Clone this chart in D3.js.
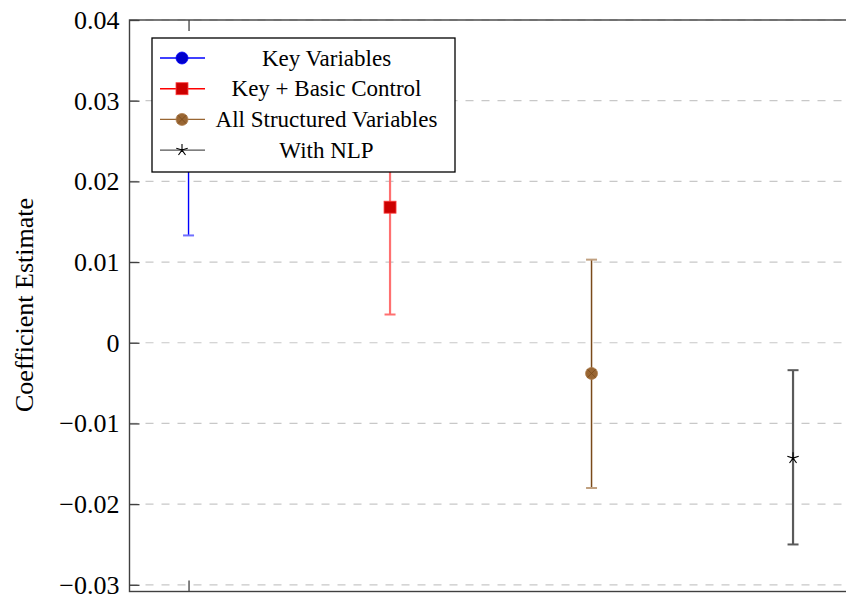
<!DOCTYPE html>
<meta charset="utf-8">
<style>

body {
  margin: 0;
  background: #fff;
}

text {
  font-family: "Liberation Serif", "Times New Roman", serif;
  fill: #000;
}

.grid line {
  stroke: #c8c8c8;
  stroke-width: 1.2px;
  stroke-dasharray: 8,8;
}

.frame {
  fill: none;
  stroke: #404040;
  stroke-width: 1.4px;
}

</style>
<body>
<script src="https://d3js.org/d3.v7.min.js"></script>
<script>

var width = 846,
    height = 596;

// data
var models = ["Key Variables", "Key + Basic Control", "All Structured Variables", "With NLP"];
var xPos = [1, 2, 3, 4];
var estimates = [0.0250, 0.0168, -0.0038, -0.0143];
var lower = [0.0133, 0.0035, -0.0180, -0.0250];
var upper = [0.0367, 0.0301, 0.0103, -0.0034];

var yTicks = [-0.03, -0.02, -0.01, 0, 0.01, 0.02, 0.03, 0.04];
var yTickLabels = ["\u22120.03", "\u22120.02", "\u22120.01", "0", "0.01", "0.02", "0.03", "0.04"];
var xTicks = [1];

// styles per series
var barColor = ["#0000ff", "#ff7070", "#7a4a1a", "#5a5a5a"];
var capColor = ["#7070ff", "#ff7070", "#c0a080", "#5a5a5a"];
var barWidth = [1.4, 2.2, 1.5, 2.2];
var lineColor = ["#0000ff", "#ff0000", "#996633", "#555555"];
var markFill = ["#0000cc", "#cc0000", "#996633", "#000"];
var markType = ["circle", "square", "otimes", "star"];

var plotLeft = 129.5, plotTop = 20, plotBottom = 591.5;

var x = d3.scaleLinear()
    .domain([0.707, 4.3])
    .range([plotLeft, plotLeft + 3.593 * 201.5]);

var y = d3.scaleLinear()
    .domain([-0.03083, 0.04])
    .range([plotBottom, plotTop]);

var svg = d3.select("body").append("svg")
    .attr("width", width)
    .attr("height", height);

// grid
svg.append("g")
    .attr("class", "grid")
  .selectAll("line")
    .data(yTicks)
  .enter().append("line")
    .attr("x1", plotLeft)
    .attr("x2", width + 10)
    .attr("y1", function(d) { return y(d); })
    .attr("y2", function(d) { return y(d); });

// y axis with inward ticks
var yAxis = d3.axisLeft(y)
    .tickValues(yTicks)
    .tickFormat(function(d, i) { return yTickLabels[i]; })
    .tickSizeInner(-10)
    .tickSizeOuter(0)
    .tickPadding(10);

var gy = svg.append("g")
    .attr("transform", "translate(" + plotLeft + ",0)")
    .call(yAxis)
    .attr("font-family", '"Liberation Serif", serif')
    .attr("font-size", 26);
gy.select(".domain").remove();
gy.selectAll(".tick line").attr("stroke", "#404040").attr("stroke-width", 1.3);
gy.selectAll(".tick text").attr("fill", "#000");

// x ticks top and bottom, no labels
var xTop = d3.axisTop(x).tickValues(xTicks).tickFormat("").tickSizeInner(-11).tickSizeOuter(0);
var xBot = d3.axisBottom(x).tickValues(xTicks).tickFormat("").tickSizeInner(-11).tickSizeOuter(0);
[[xTop, plotTop], [xBot, plotBottom]].forEach(function(a) {
  var g = svg.append("g")
      .attr("transform", "translate(0," + a[1] + ")")
      .call(a[0]);
  g.select(".domain").remove();
  g.selectAll(".tick line").attr("stroke", "#404040").attr("stroke-width", 1.3);
});

// frame
svg.append("rect")
    .attr("class", "frame")
    .attr("x", plotLeft)
    .attr("y", plotTop)
    .attr("width", width + 20 - plotLeft)
    .attr("height", plotBottom - plotTop);

// y label
svg.append("text")
    .attr("transform", "translate(33,305) rotate(-90)")
    .attr("text-anchor", "middle")
    .style("font-size", "26px")
    .text("Coefficient Estimate");

function drawMarker(g, type, i, cx, cy) {
  if (type === "circle") {
    g.append("circle").attr("cx", cx).attr("cy", cy).attr("r", 6)
        .attr("fill", markFill[i]).attr("stroke", lineColor[i]).attr("stroke-width", 0.8);
  } else if (type === "square") {
    g.append("rect").attr("x", cx - 6).attr("y", cy - 6).attr("width", 12).attr("height", 12)
        .attr("fill", markFill[i]).attr("stroke", "#ff4040").attr("stroke-width", 0.8);
  } else if (type === "otimes") {
    g.append("circle").attr("cx", cx).attr("cy", cy).attr("r", 6)
        .attr("fill", markFill[i]).attr("stroke", "#b08050").attr("stroke-width", 0.8);
    var d = 4.2;
    g.append("path")
        .attr("d", "M" + (cx - d) + "," + (cy - d) + "L" + (cx + d) + "," + (cy + d) +
                   "M" + (cx - d) + "," + (cy + d) + "L" + (cx + d) + "," + (cy - d))
        .attr("stroke", "#7a4a1a").attr("stroke-width", 0.8);
  } else {
    var p = "";
    for (var k = 0; k < 5; k++) {
      var ang = -Math.PI / 2 + k * 2 * Math.PI / 5;
      p += "M" + cx + "," + cy + "L" + (cx + 6 * Math.cos(ang)) + "," + (cy + 6 * Math.sin(ang));
    }
    g.append("path").attr("d", p).attr("stroke", "#000").attr("stroke-width", 1.1).attr("fill", "none");
  }
}

// error bars and markers
models.forEach(function(m, i) {
  var g = svg.append("g");
  var cx = x(xPos[i]);
  g.append("line")
      .attr("x1", cx).attr("x2", cx)
      .attr("y1", y(lower[i])).attr("y2", y(upper[i]))
      .attr("stroke", barColor[i]).attr("stroke-width", barWidth[i]);
  [lower[i], upper[i]].forEach(function(v) {
    g.append("line")
        .attr("x1", cx - 5.5).attr("x2", cx + 5.5)
        .attr("y1", y(v)).attr("y2", y(v))
        .attr("stroke", capColor[i]).attr("stroke-width", 2);
  });
  drawMarker(g, markType[i], i, cx, y(estimates[i]));
});

// legend
var legend = svg.append("g").attr("transform", "translate(152,38)");
legend.append("rect")
    .attr("width", 303)
    .attr("height", 134)
    .attr("fill", "#fff")
    .attr("stroke", "#000")
    .attr("stroke-width", 1.3);

models.forEach(function(m, i) {
  var ry = 20 + i * 30.7;
  legend.append("line")
      .attr("x1", 8).attr("x2", 53)
      .attr("y1", ry).attr("y2", ry)
      .attr("stroke", lineColor[i]).attr("stroke-width", 1.4);
  drawMarker(legend, markType[i], i, 30, ry);
  legend.append("text")
      .attr("x", 174.5)
      .attr("y", ry)
      .attr("dy", "0.33em")
      .attr("text-anchor", "middle")
      .style("font-size", "23px")
      .text(m);
});

</script>
